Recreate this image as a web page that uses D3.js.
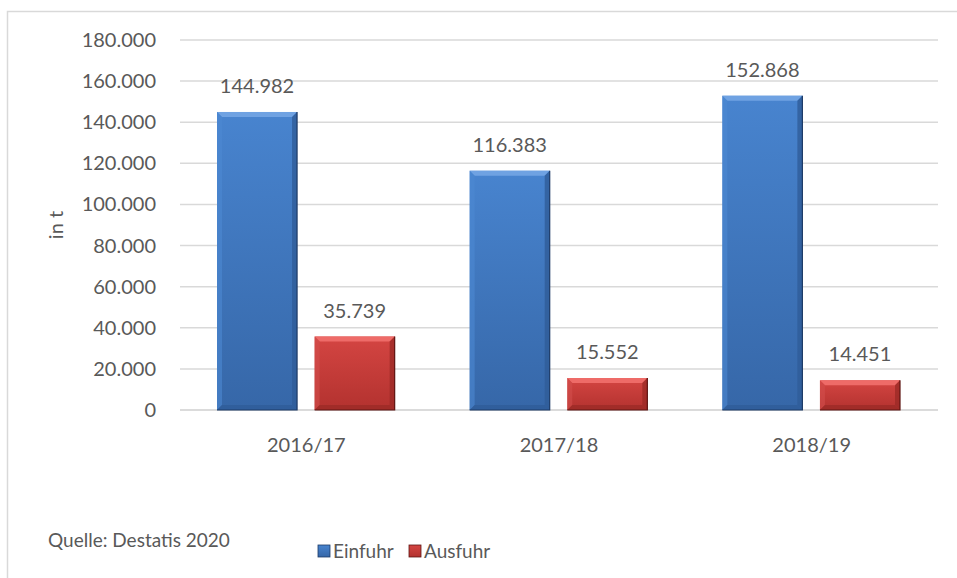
<!DOCTYPE html>
<html>
<head>
<meta charset="utf-8">
<script src="https://cdn.jsdelivr.net/npm/d3@7"></script>
<style>
  body { margin: 0; background: #fff; }
  text { font-family: Lato, "Open Sans", sans-serif; fill: #595959; }
</style>
</head>
<body>
<div id="chart"></div>
<script>
// data
const categories = ["2016/17", "2017/18", "2018/19"];
const einfuhr = [144982, 116383, 152868];
const ausfuhr = [35739, 15552, 14451];
const seriesNames = ["Einfuhr", "Ausfuhr"];
const yTicks = [0, 20000, 40000, 60000, 80000, 100000, 120000, 140000, 160000, 180000];

const svg = d3.select("#chart").append("svg")
    .attr("width", 957)
    .attr("height", 578);

// outer chart frame (runs off the right and bottom edge)
svg.append("rect")
    .attr("x", 7.5).attr("y", 11.5)
    .attr("width", 1000).attr("height", 600)
    .attr("fill", "none")
    .attr("stroke", "#d9d9d9")
    .attr("stroke-width", 1.5);

const margin = {top: 40, left: 180, right: 19, bottom: 168};
const width = 957 - margin.left - margin.right,
    height = 578 - margin.top - margin.bottom;

const g = svg.append("g")
    .attr("transform", "translate(" + margin.left + "," + margin.top + ")");

const x0 = d3.scaleBand().domain(categories).range([0, width]).paddingInner(0).paddingOuter(0);
const x1 = d3.scaleBand().domain(seriesNames).range([37, x0.bandwidth() - 38]).paddingInner(0.18);
const y = d3.scaleLinear().domain([0, 180000]).range([height, 0]);

const fmt = d3.formatLocale({decimal: ",", thousands: ".", grouping: [3]}).format(",d");

// gridlines
g.append("g").selectAll("line")
    .data(yTicks)
    .join("line")
    .attr("x1", 0).attr("x2", width)
    .attr("y1", d => y(d)).attr("y2", d => y(d))
    .attr("stroke", d => d === 0 ? "#cfcfcf" : "#d9d9d9")
    .attr("stroke-width", 1.5);

// y tick labels
g.append("g").selectAll("text")
    .data(yTicks)
    .join("text")
    .attr("x", -24)
    .attr("y", d => y(d))
    .attr("dy", "0.35em")
    .attr("text-anchor", "end")
    .style("font-size", "20px")
    .text(d => fmt(d));

// y axis title
svg.append("text")
    .attr("transform", "translate(63,225) rotate(-90)")
    .attr("text-anchor", "middle")
    .style("font-size", "20px")
    .text("in t");

// x labels
g.append("g").selectAll("text")
    .data(categories)
    .join("text")
    .attr("x", d => x0(d) + x0.bandwidth() / 2)
    .attr("y", height + 42)
    .attr("text-anchor", "middle")
    .style("font-size", "20px")
    .text(d => d);

// colours for the bevelled bars
const styles = {
    Einfuhr: {light: "#4884cf", dark: "#3667a8", top: "#6fa2e2", side: "#4c88d2", shade: "#2f5c98", edge: "#1d3a66"},
    Ausfuhr: {light: "#d44542", dark: "#b3322f", top: "#ee6b68", side: "#d24f4c", shade: "#9c2a27", edge: "#5e1412"}
};

const defs = svg.append("defs");
seriesNames.forEach(s => {
    const gr = defs.append("linearGradient").attr("id", "grad-" + s)
        .attr("x1", "0").attr("x2", "0").attr("y1", "0").attr("y2", "1");
    gr.append("stop").attr("offset", "0%").attr("stop-color", styles[s].light);
    gr.append("stop").attr("offset", "100%").attr("stop-color", styles[s].dark);
});

const bars = [];
categories.forEach((c, i) => {
    bars.push({cat: c, series: "Einfuhr", value: einfuhr[i]});
    bars.push({cat: c, series: "Ausfuhr", value: ausfuhr[i]});
});

const barG = g.append("g").selectAll("g")
    .data(bars)
    .join("g")
    .attr("transform", d => "translate(" + (x0(d.cat) + x1(d.series)) + "," + y(d.value) + ")");

const bw = x1.bandwidth();
const bev = 5;

barG.append("rect")
    .attr("width", bw)
    .attr("height", d => height - y(d.value))
    .attr("fill", d => "url(#grad-" + d.series + ")");

// bevel: top, left, right, bottom
barG.append("polygon")
    .attr("points", d => {
        const h = height - y(d.value), b = Math.min(bev, h / 2);
        return [[0, 0], [bw, 0], [bw - b, b], [b, b]].join(" ");
    })
    .attr("fill", d => styles[d.series].top);
barG.append("polygon")
    .attr("points", d => {
        const h = height - y(d.value), b = Math.min(bev, h / 2);
        return [[0, 0], [b, b], [b, h - b], [0, h]].join(" ");
    })
    .attr("fill", d => styles[d.series].side)
    .attr("opacity", 0.6);
barG.append("polygon")
    .attr("points", d => {
        const h = height - y(d.value), b = Math.min(bev, h / 2);
        return [[bw, 0], [bw, h], [bw - b, h - b], [bw - b, b]].join(" ");
    })
    .attr("fill", d => styles[d.series].shade)
    .attr("opacity", 0.8);
barG.append("polygon")
    .attr("points", d => {
        const h = height - y(d.value), b = Math.min(bev, h / 2);
        return [[0, h], [bw, h], [bw - b, h - b], [b, h - b]].join(" ");
    })
    .attr("fill", d => styles[d.series].shade)
    .attr("opacity", 0.8);
barG.append("path")
    .attr("d", d => {
        const h = height - y(d.value);
        return "M" + bw + ",0 L" + bw + "," + h + " L0," + h;
    })
    .attr("fill", "none")
    .attr("stroke", d => styles[d.series].edge)
    .attr("stroke-width", 1.2);

// value labels
g.append("g").selectAll("text")
    .data(bars)
    .join("text")
    .attr("x", d => x0(d.cat) + x1(d.series) + bw / 2)
    .attr("y", d => y(d.value) - 19)
    .attr("text-anchor", "middle")
    .style("font-size", "20px")
    .text(d => fmt(d.value));

// source note
svg.append("text")
    .attr("x", 48).attr("y", 547)
    .style("font-size", "19px")
    .text("Quelle: Destatis 2020");

// legend
const legend = svg.append("g").selectAll("g")
    .data(seriesNames)
    .join("g")
    .attr("transform", (d, i) => "translate(" + (318 + i * 91) + ",545)");
legend.append("rect")
    .attr("width", 12).attr("height", 12)
    .attr("fill", d => "url(#grad-" + d + ")")
    .attr("stroke", d => styles[d].edge)
    .attr("stroke-width", 0.8);
legend.append("text")
    .attr("x", 15).attr("y", 13)
    .style("font-size", "19px")
    .text(d => d);
</script>
</body>
</html>
